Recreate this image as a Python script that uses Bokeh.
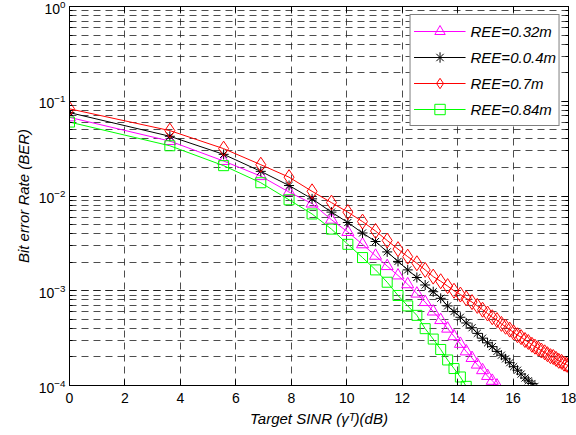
from bokeh.plotting import figure
from bokeh.models import (Range1d, LinearAxis, LogAxis, FixedTicker, LogTicker, Legend,
                          LegendItem, CustomJSTickFormatter)
from bokeh.embed import file_html
from bokeh.resources import INLINE

sinr = [0.0, 3.62, 5.56, 6.90, 7.92, 8.75, 9.45, 10.04, 10.57, 11.04,
        11.46, 11.85, 12.20, 12.53, 12.83, 13.12, 13.39, 13.64, 13.87, 14.10,
        14.31, 14.52, 14.71, 14.90, 15.08, 15.25, 15.42, 15.58, 15.73, 15.88,
        16.02, 16.16, 16.29, 16.43, 16.55, 16.68, 16.79, 16.91, 17.02, 17.14,
        17.24, 17.35, 17.45, 17.55, 17.65, 17.75, 17.84, 17.93, 18.0]

ber_032 = [0.0676, 0.0380, 0.0234, 0.0162, 0.0110, 0.00832, 0.00562, 0.00417, 0.00309, 0.00234,
           0.00182, 0.00145, 0.00117, 9.33e-4, 7.59e-4, 6.03e-4, 4.90e-4, 3.98e-4, 3.31e-4, 2.75e-4,
           2.29e-4, 1.95e-4, 1.66e-4, 1.45e-4, 1.26e-4, 1.12e-4, 1.0e-4]
ber_004 = [0.0759, 0.0427, 0.0275, 0.0182, 0.0129, 0.00933, 0.00676, 0.00525, 0.00407, 0.00331,
           0.00257, 0.00204, 0.00166, 0.00138, 0.00115, 9.77e-4, 8.32e-4, 6.92e-4, 6.03e-4, 5.25e-4,
           4.57e-4, 4.07e-4, 3.55e-4, 3.16e-4, 2.82e-4, 2.57e-4, 2.29e-4, 2.09e-4, 1.91e-4, 1.74e-4,
           1.58e-4, 1.45e-4, 1.32e-4, 1.20e-4, 1.12e-4, 1.05e-4, 9.8e-5]
ber_07 = [0.0832, 0.0490, 0.0316, 0.0214, 0.0158, 0.0112, 0.00851, 0.00676, 0.00537, 0.00427,
          0.00339, 0.00275, 0.00229, 0.00195, 0.00166, 0.00141, 0.00126, 0.00112, 0.00100, 9.12e-4,
          8.32e-4, 7.59e-4, 6.92e-4, 6.31e-4, 5.75e-4, 5.25e-4, 4.90e-4, 4.47e-4, 4.17e-4, 3.89e-4,
          3.63e-4, 3.39e-4, 3.24e-4, 3.02e-4, 2.88e-4, 2.69e-4, 2.57e-4, 2.45e-4, 2.34e-4, 2.24e-4,
          2.14e-4, 2.04e-4, 2.00e-4, 1.91e-4, 1.82e-4, 1.78e-4, 1.70e-4, 1.66e-4, 1.62e-4]
ber_084 = [0.0603, 0.0339, 0.0209, 0.0138, 0.00912, 0.00646, 0.00447, 0.00309, 0.00224, 0.00166,
           0.00123, 8.91e-4, 6.92e-4, 5.50e-4, 3.98e-4, 3.09e-4, 2.40e-4, 1.86e-4, 1.51e-4, 1.23e-4,
           9.8e-5]

labels = ["REE=0.32m", "REE=0.0.4m", "REE=0.7m", "REE=0.84m"]
x_ticks = [0, 2, 4, 6, 8, 10, 12, 14, 16, 18]

FONT = "Liberation Sans"

p = figure(width=576, height=435, output_backend="svg", toolbar_location=None,
           y_axis_type="log", x_range=Range1d(0, 18), y_range=Range1d(1e-4, 1),
           min_border_left=69, min_border_right=8, min_border_top=6, min_border_bottom=50)
p.outline_line_color = "black"
p.outline_line_width = 1
p.background_fill_color = "white"
p.border_fill_color = "white"

for ax in (p.xaxis[0], p.yaxis[0]):
    ax.axis_line_color = "black"
    ax.major_tick_in = 6
    ax.major_tick_out = 0
    ax.minor_tick_in = 3
    ax.minor_tick_out = 0
    ax.major_label_text_font = FONT
    ax.major_label_text_font_size = "14px"
    ax.major_label_text_color = "black"
    ax.axis_label_text_font = FONT
    ax.axis_label_text_font_size = "15px"
    ax.axis_label_text_font_style = "italic"
    ax.axis_label_text_color = "black"

p.xaxis.ticker = FixedTicker(ticks=x_ticks)
p.xaxis.minor_tick_line_color = None
p.xaxis.major_label_standoff = 7
p.xaxis.axis_label = "Target SINR (\u03b3\u1d40)(dB)"
p.xaxis.axis_label_standoff = 4
p.yaxis.ticker = LogTicker(num_minor_ticks=10)
p.yaxis.major_label_standoff = 4
p.yaxis.axis_label = "Bit error Rate (BER)"
p.yaxis.axis_label_standoff = 4

blank = CustomJSTickFormatter(code="return '';")
top = LinearAxis(ticker=FixedTicker(ticks=x_ticks), formatter=blank, major_tick_in=6,
                 major_tick_out=0, minor_tick_line_color=None, major_label_standoff=0,
                 axis_line_color="black")
right = LogAxis(ticker=LogTicker(num_minor_ticks=10), formatter=blank, major_tick_in=6,
                major_tick_out=0, minor_tick_in=3, minor_tick_out=0, major_label_standoff=0,
                axis_line_color="black")
p.add_layout(top, "above")
p.add_layout(right, "right")

grid_color = "#202020"
p.xgrid.ticker = FixedTicker(ticks=x_ticks)
p.xgrid.grid_line_color = grid_color
p.xgrid.grid_line_dash = "7 5"
p.xgrid.grid_line_alpha = 0.8
p.ygrid.grid_line_color = grid_color
p.ygrid.grid_line_dash = "7 5"
p.ygrid.grid_line_alpha = 0.8
p.ygrid.minor_grid_line_color = grid_color
p.ygrid.minor_grid_line_dash = "7 5"
p.ygrid.minor_grid_line_alpha = 0.8

series = [
    (ber_032, "#FF00FF", "triangle", 12),
    (ber_004, "black", "asterisk", 10),
    (ber_07, "#FF0000", "diamond", 15),
    (ber_084, "#00FF00", "square", 10),
]

items = []
for (ber, color, marker, size), lab in zip(series, labels):
    xs = sinr[:len(ber)]
    r1 = p.line(xs, ber, line_color=color, line_width=1)
    r2 = p.scatter(xs, ber, marker=marker, size=size, line_color=color,
                   fill_color=None, line_width=1)
    items.append(LegendItem(label=lab, renderers=[r1, r2]))

legend = Legend(items=items, location="top_right")
legend.label_text_font = FONT
legend.label_text_font_style = "italic"
legend.label_text_font_size = "15px"
legend.label_text_color = "black"
legend.glyph_width = 52
legend.glyph_height = 26
legend.label_height = 26
legend.spacing = -6
legend.padding = 3
legend.margin = 8
legend.label_standoff = 5
legend.border_line_color = "black"
legend.border_line_width = 1
legend.background_fill_color = "white"
legend.background_fill_alpha = 1
p.add_layout(legend, "center")

open("out.html", "w").write(file_html(p, INLINE))
